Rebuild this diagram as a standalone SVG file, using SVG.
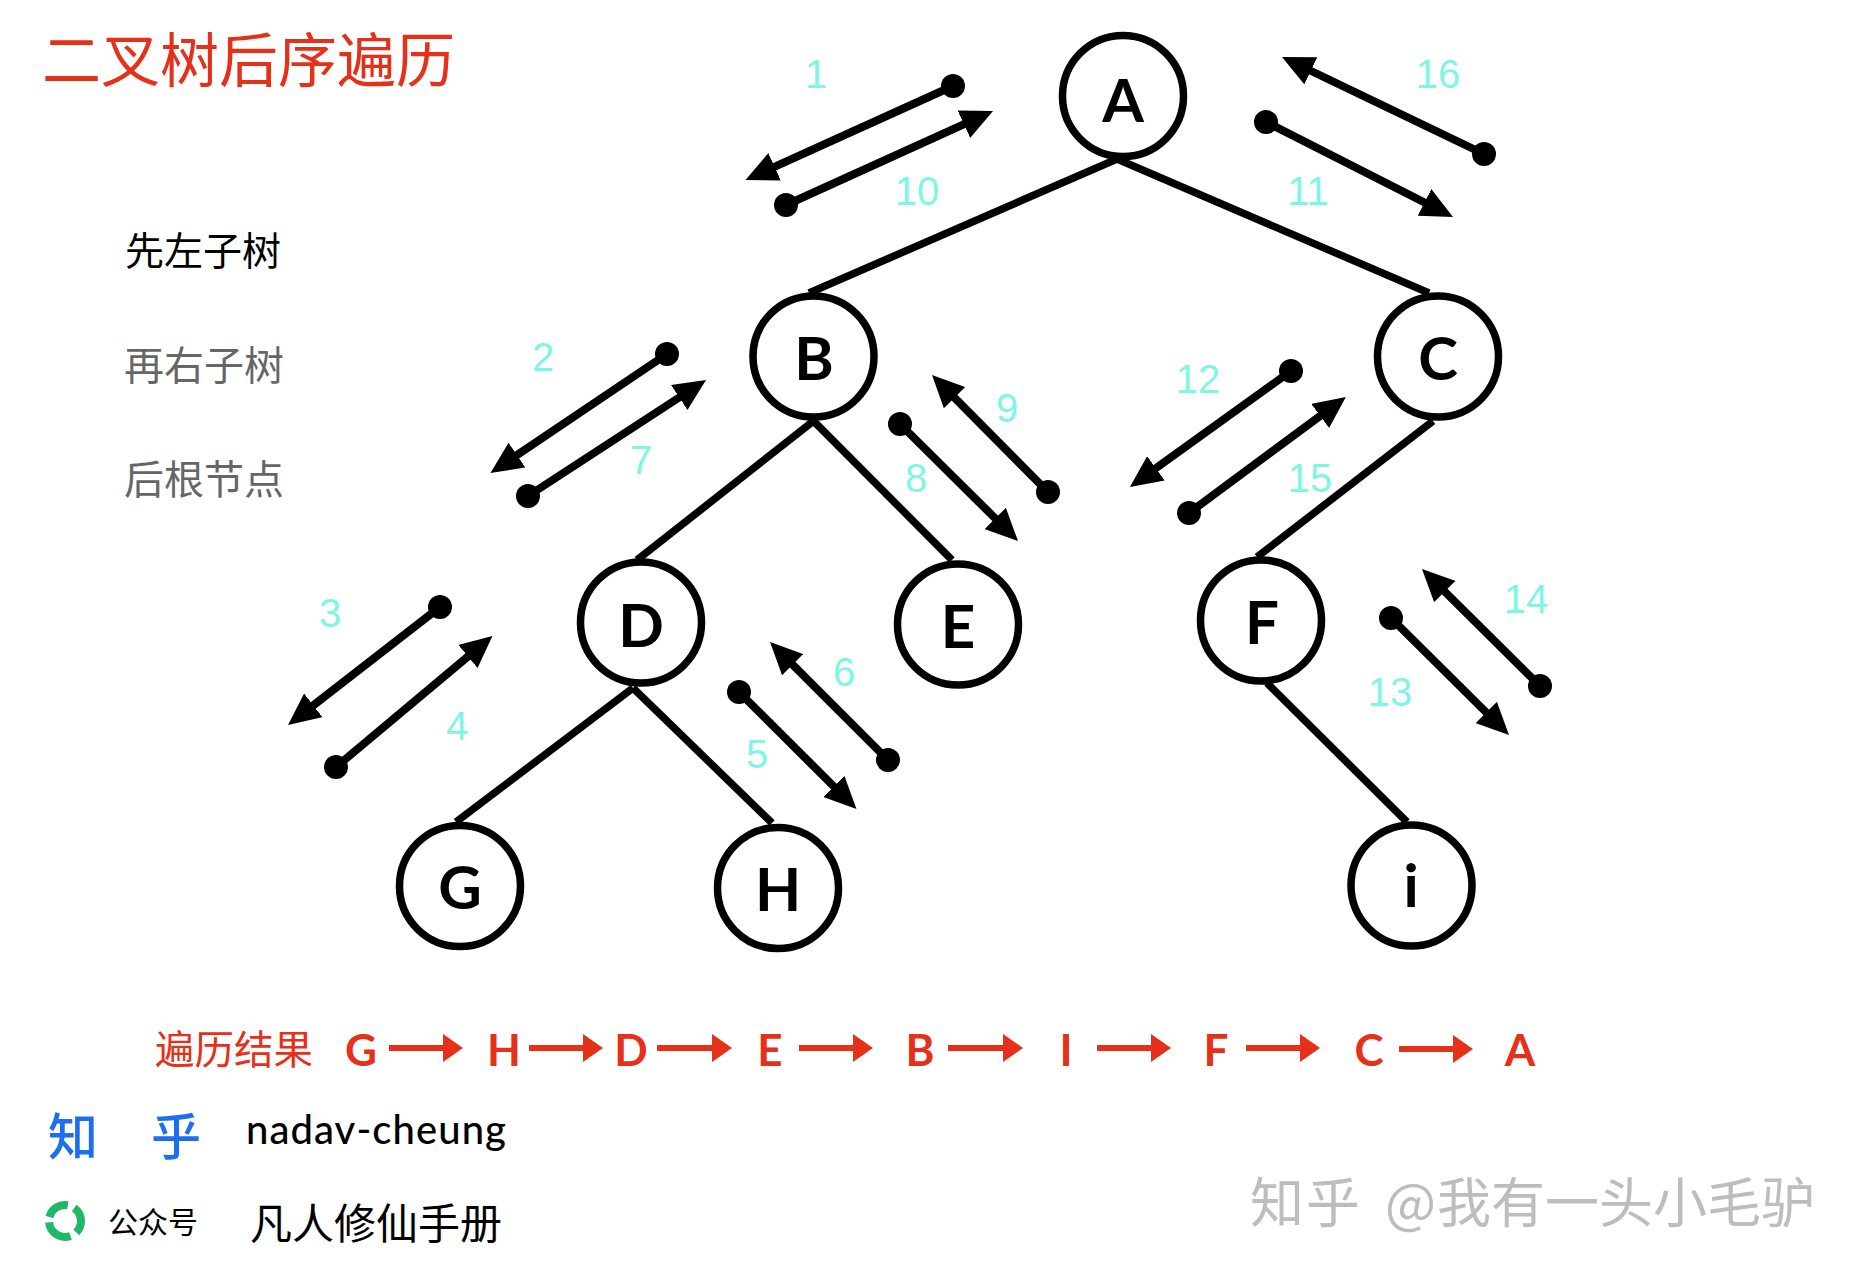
<svg xmlns="http://www.w3.org/2000/svg" width="1860" height="1278" viewBox="0 0 1860 1278">
<style>
text{font-family:"Noto Sans CJK SC","Liberation Sans",sans-serif}
.n{fill:#fff;stroke:#000;stroke-width:7.5}
.l{font-family:"Lato","Open Sans",sans-serif;font-weight:700;font-size:60px;text-anchor:middle;fill:#000}
.e{stroke:#000;stroke-width:7.5;fill:none}
.t{stroke:#000;stroke-width:8;fill:none;marker-start:url(#dot);marker-end:url(#head)}
.r{stroke:#e5301a;stroke-width:6;fill:none;marker-end:url(#rhead)}
.c{font-family:"Liberation Sans",sans-serif;font-size:40px;fill:#7ff5e6;text-anchor:middle}
.o{font-family:"Lato","Open Sans",sans-serif;font-weight:700;font-size:44px;fill:#e5301a;text-anchor:middle}
.s{font-size:39.5px;font-weight:400}
.z{font-size:50px;font-weight:500;fill:#1e6ff0}
</style>
<defs>
<marker id="head" markerUnits="userSpaceOnUse" markerWidth="32" markerHeight="30" viewBox="0 -15 32 30" refX="10" refY="0" orient="auto"><path d="M0,-15L32,0L0,15Z" fill="#000"/></marker>
<marker id="dot" markerUnits="userSpaceOnUse" markerWidth="26" markerHeight="26" viewBox="-13 -13 26 26" refX="0" refY="0"><circle r="12" fill="#000"/></marker>
<marker id="rhead" markerUnits="userSpaceOnUse" markerWidth="20" markerHeight="28" viewBox="0 -14 20 28" refX="1" refY="0" orient="auto"><path d="M0,-14L20,0L0,14Z" fill="#e5301a"/></marker>
</defs>
<rect width="1860" height="1278" fill="#fff"/>
<g id="connectors">
<path class="e" d="M1117,159L809,293"/><path class="e" d="M1117,159L1429,293"/>
<path class="e" d="M813.5,421L637,560"/><path class="e" d="M813.5,421L952,560"/>
<path class="e" d="M1433,421L1257,557"/>
<path class="e" d="M633,688L456,822"/><path class="e" d="M633,688L772,823"/>
<path class="e" d="M1267,683L1407,822"/>
<path class="t" d="M953,86L765.5,170.9"/>
<path class="t" d="M786,205L973,120.1"/>
<path class="t" d="M1484,154L1301.8,66.5"/>
<path class="t" d="M1266,122L1433.4,207"/>
<path class="t" d="M667,354L508.7,460.7"/>
<path class="t" d="M528,496L687.6,392"/>
<path class="t" d="M1048,492L947.5,390.6"/>
<path class="t" d="M900,424L1002.4,525.5"/>
<path class="t" d="M1291,371L1147.8,474.1"/>
<path class="t" d="M1189,513L1328.2,410"/>
<path class="t" d="M440,607L305.4,711.5"/>
<path class="t" d="M336,767L475.6,650.1"/>
<path class="t" d="M739,692L840.9,793.5"/>
<path class="t" d="M888,760L785.6,657.6"/>
<path class="t" d="M1391,618L1493.4,719.5"/>
<path class="t" d="M1540,686L1437.6,584.5"/>
<path class="r" d="M389,1048H444"/><path class="r" d="M529,1048H584"/><path class="r" d="M657,1048H713"/><path class="r" d="M799,1048H854"/><path class="r" d="M948,1048H1004"/><path class="r" d="M1097,1048H1152"/><path class="r" d="M1246,1048H1301"/><path class="r" d="M1399,1049H1454"/>
</g>
<g id="node-A"><circle class="n" cx="1123" cy="96" r="60.5"/><text class="l" x="1123" y="122">A</text></g>
<g id="node-B"><circle class="n" cx="813.5" cy="356.5" r="60.5"/><text class="l" x="814" y="380">B</text></g>
<g id="node-C"><circle class="n" cx="1438" cy="356.5" r="60.5"/><text class="l" x="1438" y="380">C</text></g>
<g id="node-D"><circle class="n" cx="641" cy="622.5" r="60.5"/><text class="l" x="641" y="647">D</text></g>
<g id="node-E"><circle class="n" cx="958" cy="624.5" r="60.5"/><text class="l" x="958" y="648">E</text></g>
<g id="node-F"><circle class="n" cx="1261" cy="620.5" r="60.5"/><text class="l" x="1262" y="644">F</text></g>
<g id="node-G"><circle class="n" cx="460" cy="886" r="60.5"/><text class="l" x="460" y="909">G</text></g>
<g id="node-H"><circle class="n" cx="778" cy="888" r="60.5"/><text class="l" x="778" y="911">H</text></g>
<g id="node-i"><circle class="n" cx="1411.5" cy="885.5" r="60.5"/><text class="l" x="1411" y="907">i</text></g>
<g id="order-numbers">
<text class="c" x="816" y="88">1</text><text class="c" x="543" y="371">2</text><text class="c" x="330" y="627">3</text><text class="c" x="457" y="740">4</text>
<text class="c" x="757" y="768">5</text><text class="c" x="844" y="686">6</text><text class="c" x="641" y="474">7</text><text class="c" x="916" y="492">8</text>
<text class="c" x="1007" y="422">9</text><text class="c" x="917" y="205">10</text><text class="c" x="1308" y="205">11</text><text class="c" x="1198" y="393">12</text>
<text class="c" x="1390" y="706">13</text><text class="c" x="1526" y="613">14</text><text class="c" x="1310" y="492">15</text><text class="c" x="1438" y="88">16</text>
</g>
<g id="legend">
<text x="42" y="82" font-size="59" font-weight="400" fill="#e5301a">二叉树后序遍历</text>
<text x="125" y="265" font-size="39" fill="#000">先左子树</text>
<text x="124" y="380" font-size="40" fill="#666">再右子树</text>
<text x="124" y="494" font-size="40" fill="#666">后根节点</text>
</g>
<g id="result">
<text class="s" x="155" y="1064" fill="#e5301a">遍历结果</text>
<text class="o" x="361" y="1066">G</text><text class="o" x="504" y="1066">H</text><text class="o" x="631" y="1066">D</text><text class="o" x="770" y="1066">E</text><text class="o" x="920" y="1066">B</text><text class="o" x="1066" y="1066">I</text><text class="o" x="1216" y="1066">F</text><text class="o" x="1369" y="1066">C</text><text class="o" x="1520" y="1066">A</text>
</g>
<g id="credits">
<text class="z" x="48" y="1155">知</text><text class="z" x="151" y="1155">乎</text>
<text x="246" y="1144" font-size="40" font-weight="500" textLength="260" style="font-family:Lato,'Open Sans',sans-serif">nadav-cheung</text>
<g fill="none" stroke="#1fb868" stroke-width="8">
<path d="M49.5,1216.9A16,16 0 0 1 67.8,1205.2"/><path d="M74.2,1207.9A16,16 0 0 1 76.3,1232.3"/><path d="M70.5,1236A16,16 0 0 1 49.1,1222.4"/>
</g>
<text x="108" y="1233" font-size="30" font-weight="400">公众号</text>
<text x="250" y="1239" font-size="42" font-weight="400">凡人修仙手册</text>
</g>
<text id="watermark" y="1223" font-size="54" fill="#bdbdbd"><tspan x="1250" letter-spacing="2">知乎</tspan><tspan x="1385">@</tspan><tspan x="1437">我有一头小毛驴</tspan></text>
</svg>
